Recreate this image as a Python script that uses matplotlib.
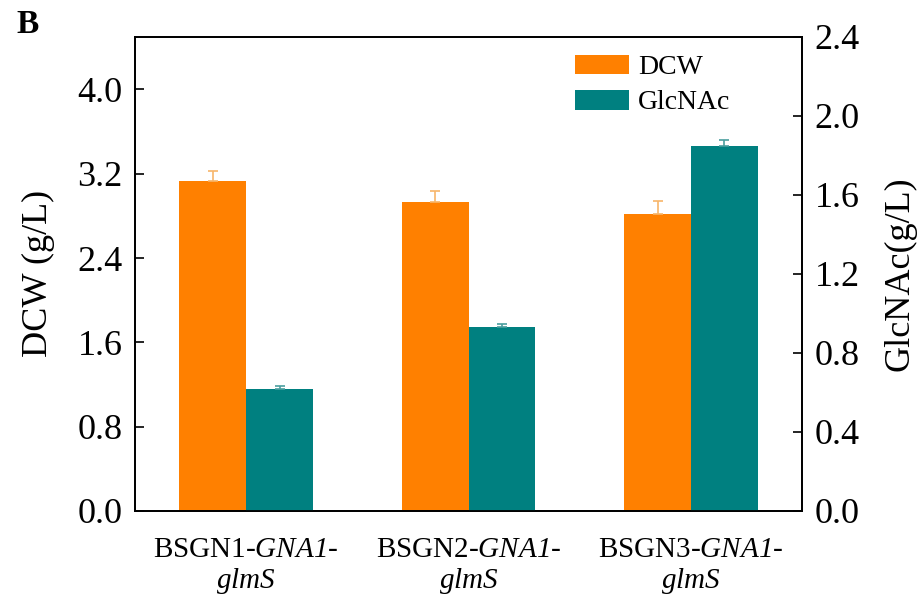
import numpy as np
from matplotlib import pyplot as plt

strains = [r"BSGN1-$\mathsf{GNA1}$-" + "\n" + r"$\mathsf{glmS}$",
           r"BSGN2-$\mathsf{GNA1}$-" + "\n" + r"$\mathsf{glmS}$",
           r"BSGN3-$\mathsf{GNA1}$-" + "\n" + r"$\mathsf{glmS}$"]
dcw = [3.13, 2.93, 2.82]
dcwErr = [0.10, 0.11, 0.12]
glcnac = [0.615, 0.93, 1.845]
glcnacErr = [0.015, 0.015, 0.03]

leftTicks = [0.0, 0.8, 1.6, 2.4, 3.2, 4.0]
rightTicks = [0.0, 0.4, 0.8, 1.2, 1.6, 2.0, 2.4]

ORANGE = "#FF8000"
TEAL = "#008080"

plt.rcParams['font.family'] = ['Liberation Serif', 'DejaVu Serif']
plt.rcParams['mathtext.fontset'] = 'custom'
plt.rcParams['mathtext.rm'] = 'Liberation Serif'
plt.rcParams['mathtext.it'] = 'Liberation Serif:italic'
# italic digits too: use the sf slot for italic serif
plt.rcParams['mathtext.sf'] = 'Liberation Serif:italic'

fig = plt.figure(figsize=(9.24, 6.01), dpi=100)
ax = fig.add_axes([0.1461, 0.1498, 0.7219, 0.7892])
ax2 = ax.twinx()

x = np.arange(len(strains))
w = 0.3

b1 = ax.bar(x - w/2, dcw, w, color=ORANGE, label="DCW", zorder=2)
ax.errorbar(x - w/2, dcw, yerr=[np.zeros(3), dcwErr], fmt='none',
            ecolor="#F7B56A", elinewidth=1.2, capsize=3.6, capthick=1.2, zorder=3)
b2 = ax2.bar(x + w/2, glcnac, w, color=TEAL, label="GlcNAc", zorder=2)
ax2.errorbar(x + w/2, glcnac, yerr=[np.zeros(3), glcnacErr], fmt='none',
             ecolor="#4A9E9E", elinewidth=1.2, capsize=3.6, capthick=1.2, zorder=3)

ax.set_xlim(-0.5, 2.5)
ax.set_ylim(0, 4.5)
ax2.set_ylim(0, 2.4)

ax.set_yticks(leftTicks)
ax.set_yticklabels(["%.1f" % t for t in leftTicks])
ax2.set_yticks(rightTicks)
ax2.set_yticklabels(["%.1f" % t for t in rightTicks])

ax.set_xticks(x)
ax.set_xticklabels(strains, fontsize=21, linespacing=1.1)
ax.tick_params(axis='x', length=0, pad=19)
ax.tick_params(axis='y', direction='in', length=6.5, width=1.2, labelsize=26, pad=9)
ax2.tick_params(axis='y', direction='in', length=6.5, width=1.2, labelsize=26, pad=9)

ax.set_ylabel("DCW (g/L)", fontsize=26)
ax2.set_ylabel("GlcNAc(g/L)", fontsize=26)
ax.yaxis.set_label_coords(-0.12, 0.5)
ax2.yaxis.set_label_coords(1.122, 0.5)

for a in (ax, ax2):
    for s in a.spines.values():
        s.set_linewidth(1.3)

ax.legend([b1, b2], ["DCW", "GlcNAc"], loc='upper left', bbox_to_anchor=(0.622, 1.015),
          frameon=False, fontsize=20, handlelength=1.95, handleheight=0.72,
          handletextpad=0.32, labelspacing=0.35)

fig.text(0.018, 0.945, "B", fontsize=24, fontweight='bold')

plt.savefig("out.png", dpi=100)
